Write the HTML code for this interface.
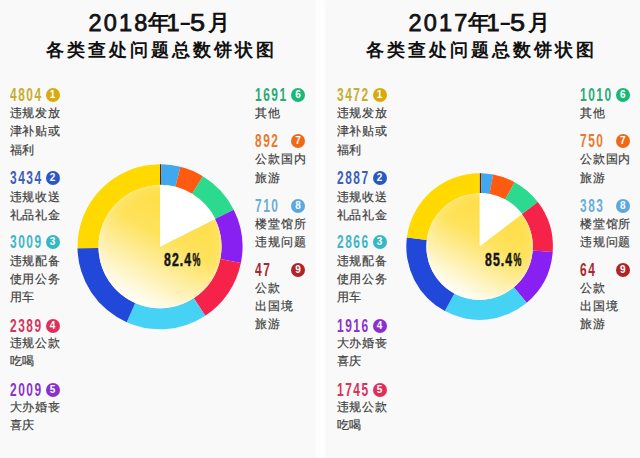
<!DOCTYPE html>
<html><head><meta charset="utf-8"><style>
html,body{margin:0;padding:0}
body{width:640px;height:458px;position:relative;overflow:hidden;background:#f9f9f9;font-family:"Liberation Sans",sans-serif}
.strip{position:absolute;left:316px;top:0;width:9px;box-shadow:0 0 2px #fefefe;height:458px;background:#fefefe}
.t1,.t2{position:absolute;width:320px;text-align:center;color:#111;font-weight:bold;white-space:nowrap}
.t1{top:9px;font-size:21px;line-height:26px}
.t1d,.t1c,.t1e,.t1f{position:absolute;top:9px;font-size:21.5px;line-height:26px;color:#111;font-weight:bold;white-space:nowrap}
.t1c{font-weight:900;top:10px}
.t1d{letter-spacing:2.2px;font-size:23.5px;top:9.5px;font-weight:normal;-webkit-text-stroke:0.75px #111}
.t1f{font-size:23.5px;top:9.5px;font-weight:normal;-webkit-text-stroke:0.75px #111;transform-origin:0 0;transform:scaleX(1.15)}
.t1e{font-size:22px;top:9.5px;transform-origin:0 0;transform:scaleX(0.85)}
.t2{top:36.5px;font-size:18px;line-height:26px;letter-spacing:3px;padding-left:3px;box-sizing:border-box;font-weight:900}
.num{position:absolute;font-size:18.5px;line-height:17px;height:17px;font-weight:bold;transform-origin:0 0;transform:scaleX(0.645);letter-spacing:2.4px;white-space:nowrap}
.bd{position:absolute;width:14px;height:14px;border-radius:50%;color:#fff;font-size:10px;line-height:14px;text-align:center;font-weight:bold}
.tx{position:absolute;font-size:12px;line-height:12px;color:#404040;letter-spacing:0.9px;white-space:nowrap;-webkit-text-stroke:0.2px #404040}
.pct{position:absolute;font-size:18.6px;line-height:18px;font-weight:bold;color:#151515;transform-origin:0 0;transform:scaleX(0.66);letter-spacing:1.6px;white-space:nowrap;-webkit-text-stroke:0.5px #151515}
.pc{display:inline-block;transform-origin:0 0;transform:scaleX(0.72)}
</style></head><body>
<div class="strip"></div>
<div class="t1d" style="left:88.5px">2018</div><div class="t1c" style="left:147.5px">年</div><div class="t1d" style="left:166.5px">1</div><div class="t1e" style="left:179.5px">–</div><div class="t1f" style="left:190px">5</div><div class="t1c" style="left:208px">月</div>
<div class="t2" style="left:0">各类查处问题总数饼状图</div>
<div class="t1d" style="left:408.5px">2017</div><div class="t1c" style="left:467.5px">年</div><div class="t1d" style="left:486.5px">1</div><div class="t1e" style="left:499.5px">–</div><div class="t1f" style="left:510px">5</div><div class="t1c" style="left:528px">月</div>
<div class="t2" style="left:320px">各类查处问题总数饼状图</div>
<svg width="640" height="458" style="position:absolute;left:0;top:0">
<defs><linearGradient id="g1" x1="0.78" y1="0.08" x2="0.3" y2="0.95">
<stop offset="0" stop-color="#fedc3c"/><stop offset="0.42" stop-color="#fee25c"/><stop offset="0.7" stop-color="#feefa8"/><stop offset="1" stop-color="#fffef8"/></linearGradient>
<radialGradient id="g1e" cx="0.5" cy="0.5" r="0.5"><stop offset="0.8" stop-color="#fff" stop-opacity="0"/><stop offset="1" stop-color="#fff" stop-opacity="0.12"/></radialGradient><linearGradient id="g2" x1="0.78" y1="0.08" x2="0.3" y2="0.95">
<stop offset="0" stop-color="#fedc3c"/><stop offset="0.42" stop-color="#fee25c"/><stop offset="0.7" stop-color="#feefa8"/><stop offset="1" stop-color="#fffef8"/></linearGradient>
<radialGradient id="g2e" cx="0.5" cy="0.5" r="0.5"><stop offset="0.8" stop-color="#fff" stop-opacity="0"/><stop offset="1" stop-color="#fff" stop-opacity="0.12"/></radialGradient></defs>
<path d="M160.00 164.20A82.5 82.5 0 0 1 161.28 164.21L160.96 185.21A61.5 61.5 0 0 0 160.00 185.20Z" fill="#6e1c10"/><path d="M161.28 164.21A82.5 82.5 0 0 1 180.45 166.78L175.25 187.12A61.5 61.5 0 0 0 160.96 185.21Z" fill="#3fa8ee"/><path d="M180.45 166.78A82.5 82.5 0 0 1 202.82 176.18L191.92 194.13A61.5 61.5 0 0 0 175.25 187.12Z" fill="#ff5a12"/><path d="M202.82 176.18A82.5 82.5 0 0 1 233.73 209.68L214.96 219.10A61.5 61.5 0 0 0 191.92 194.13Z" fill="#2bd98f"/><path d="M233.73 209.68A82.5 82.5 0 0 1 240.86 263.05L220.28 258.89A61.5 61.5 0 0 0 214.96 219.10Z" fill="#8720f0"/><path d="M240.86 263.05A82.5 82.5 0 0 1 205.26 315.68L193.74 298.12A61.5 61.5 0 0 0 220.28 258.89Z" fill="#f5224a"/><path d="M205.26 315.68A82.5 82.5 0 0 1 126.72 322.19L135.19 302.98A61.5 61.5 0 0 0 193.74 298.12Z" fill="#45d2f4"/><path d="M126.72 322.19A82.5 82.5 0 0 1 77.52 248.28L98.51 247.88A61.5 61.5 0 0 0 135.19 302.98Z" fill="#2148d8"/><path d="M77.52 248.28A82.5 82.5 0 0 1 160.00 164.20L160.00 185.20A61.5 61.5 0 0 0 98.51 247.88Z" fill="#ffd900"/>
<circle cx="160" cy="246.7" r="61.5" fill="url(#g1)"/><circle cx="160" cy="246.7" r="61.5" fill="url(#g1e)"/><circle cx="160" cy="246.7" r="60.5" fill="none" stroke="#fff" stroke-opacity="0.12" stroke-width="2"/><path d="M160 246.7L160.00 184.70A62.0 62.0 0 0 1 215.42 218.90Z" fill="#fff"/>
<path d="M479.60 173.30A73.3 73.3 0 0 1 481.55 173.33L481.02 193.42A53.2 53.2 0 0 0 479.60 193.40Z" fill="#6e1c10"/><path d="M481.55 173.33A73.3 73.3 0 0 1 493.16 174.57L489.44 194.32A53.2 53.2 0 0 0 481.02 193.42Z" fill="#3fa8ee"/><path d="M493.16 174.57A73.3 73.3 0 0 1 514.63 182.21L505.03 199.87A53.2 53.2 0 0 0 489.44 194.32Z" fill="#ff5a12"/><path d="M514.63 182.21A73.3 73.3 0 0 1 537.86 202.12L521.89 214.32A53.2 53.2 0 0 0 505.03 199.87Z" fill="#2bd98f"/><path d="M537.86 202.12A73.3 73.3 0 0 1 552.70 252.05L532.65 250.56A53.2 53.2 0 0 0 521.89 214.32Z" fill="#f5224a"/><path d="M552.70 252.05A73.3 73.3 0 0 1 526.75 302.72L513.82 287.33A53.2 53.2 0 0 0 532.65 250.56Z" fill="#8720f0"/><path d="M526.75 302.72A73.3 73.3 0 0 1 444.82 311.12L454.36 293.43A53.2 53.2 0 0 0 513.82 287.33Z" fill="#45d2f4"/><path d="M444.82 311.12A73.3 73.3 0 0 1 406.88 237.43L426.82 239.95A53.2 53.2 0 0 0 454.36 293.43Z" fill="#2148d8"/><path d="M406.88 237.43A73.3 73.3 0 0 1 479.60 173.30L479.60 193.40A53.2 53.2 0 0 0 426.82 239.95Z" fill="#ffd900"/>
<circle cx="479.6" cy="246.6" r="53.2" fill="url(#g2)"/><circle cx="479.6" cy="246.6" r="53.2" fill="url(#g2e)"/><circle cx="479.6" cy="246.6" r="52.2" fill="none" stroke="#fff" stroke-opacity="0.12" stroke-width="2"/><path d="M479.6 246.6L479.60 192.90A53.7 53.7 0 0 1 522.24 213.95Z" fill="#fff"/>
</svg>
<div class="num" style="left:9.5px;top:85.7px;color:#c6ae2e">4804</div><div class="bd" style="left:45.5px;top:87.7px;background:#d8aa0c">1</div><div class="tx" style="left:9.5px;top:107.2px">违规发放</div><div class="tx" style="left:9.5px;top:125.4px">津补贴或</div><div class="tx" style="left:9.5px;top:143.5px">福利</div><div class="num" style="left:9.5px;top:169.4px;color:#3a5fb8">3434</div><div class="bd" style="left:45.5px;top:171.4px;background:#2a56c8">2</div><div class="tx" style="left:9.5px;top:190.9px">违规收送</div><div class="tx" style="left:9.5px;top:209.0px">礼品礼金</div><div class="num" style="left:9.5px;top:233.3px;color:#3fb6c4">3009</div><div class="bd" style="left:45.5px;top:235.3px;background:#34b8c8">3</div><div class="tx" style="left:9.5px;top:254.8px">违规配备</div><div class="tx" style="left:9.5px;top:272.8px">使用公务</div><div class="tx" style="left:9.5px;top:290.8px">用车</div><div class="num" style="left:9.5px;top:316.6px;color:#d8335a">2389</div><div class="bd" style="left:45.5px;top:318.6px;background:#e0305a">4</div><div class="tx" style="left:9.5px;top:336.8px">违规公款</div><div class="tx" style="left:9.5px;top:355.3px">吃喝</div><div class="num" style="left:9.5px;top:381.4px;color:#8a34c8">2009</div><div class="bd" style="left:45.5px;top:383.4px;background:#8a30d0">5</div><div class="tx" style="left:9.5px;top:400.8px">大办婚丧</div><div class="tx" style="left:9.5px;top:419.3px">喜庆</div><div class="num" style="left:255px;top:86.4px;color:#2aaa78">1691</div><div class="bd" style="left:291px;top:88.4px;background:#1ab878">6</div><div class="tx" style="left:255px;top:106.8px">其他</div><div class="num" style="left:255px;top:132.4px;color:#e87a2e">892</div><div class="bd" style="left:291px;top:134.4px;background:#ee6a18">7</div><div class="tx" style="left:255px;top:153.4px">公款国内</div><div class="tx" style="left:255px;top:171.8px">旅游</div><div class="num" style="left:255px;top:197.1px;color:#6aaed8">710</div><div class="bd" style="left:291px;top:199.1px;background:#5aa8e0">8</div><div class="tx" style="left:255px;top:217.9px">楼堂馆所</div><div class="tx" style="left:255px;top:236.2px">违规问题</div><div class="num" style="left:255px;top:261.2px;color:#a8282e">47</div><div class="bd" style="left:291px;top:263.2px;background:#b02428">9</div><div class="tx" style="left:255px;top:282.0px">公款</div><div class="tx" style="left:255px;top:300.3px">出国境</div><div class="tx" style="left:255px;top:318.3px">旅游</div><div class="num" style="left:336.5px;top:85.7px;color:#c6ae2e">3472</div><div class="bd" style="left:372.5px;top:87.7px;background:#d8aa0c">1</div><div class="tx" style="left:336.5px;top:107.2px">违规发放</div><div class="tx" style="left:336.5px;top:125.4px">津补贴或</div><div class="tx" style="left:336.5px;top:143.5px">福利</div><div class="num" style="left:336.5px;top:169.4px;color:#3a5fb8">2887</div><div class="bd" style="left:372.5px;top:171.4px;background:#2a56c8">2</div><div class="tx" style="left:336.5px;top:190.9px">违规收送</div><div class="tx" style="left:336.5px;top:209.0px">礼品礼金</div><div class="num" style="left:336.5px;top:233.3px;color:#3fb6c4">2866</div><div class="bd" style="left:372.5px;top:235.3px;background:#34b8c8">3</div><div class="tx" style="left:336.5px;top:254.8px">违规配备</div><div class="tx" style="left:336.5px;top:272.8px">使用公务</div><div class="tx" style="left:336.5px;top:290.8px">用车</div><div class="num" style="left:336.5px;top:316.6px;color:#8a34c8">1916</div><div class="bd" style="left:372.5px;top:318.6px;background:#8a30d0">4</div><div class="tx" style="left:336.5px;top:336.8px">大办婚丧</div><div class="tx" style="left:336.5px;top:355.3px">喜庆</div><div class="num" style="left:336.5px;top:381.4px;color:#d8335a">1745</div><div class="bd" style="left:372.5px;top:383.4px;background:#e0305a">5</div><div class="tx" style="left:336.5px;top:400.8px">违规公款</div><div class="tx" style="left:336.5px;top:419.3px">吃喝</div><div class="num" style="left:579.8px;top:86.4px;color:#2aaa78">1010</div><div class="bd" style="left:615.8px;top:88.4px;background:#1ab878">6</div><div class="tx" style="left:579.8px;top:106.8px">其他</div><div class="num" style="left:579.8px;top:132.4px;color:#e87a2e">750</div><div class="bd" style="left:615.8px;top:134.4px;background:#ee6a18">7</div><div class="tx" style="left:579.8px;top:153.4px">公款国内</div><div class="tx" style="left:579.8px;top:171.8px">旅游</div><div class="num" style="left:579.8px;top:197.1px;color:#6aaed8">383</div><div class="bd" style="left:615.8px;top:199.1px;background:#5aa8e0">8</div><div class="tx" style="left:579.8px;top:217.9px">楼堂馆所</div><div class="tx" style="left:579.8px;top:236.2px">违规问题</div><div class="num" style="left:579.8px;top:261.2px;color:#a8282e">64</div><div class="bd" style="left:615.8px;top:263.2px;background:#b02428">9</div><div class="tx" style="left:579.8px;top:282.0px">公款</div><div class="tx" style="left:579.8px;top:300.3px">出国境</div><div class="tx" style="left:579.8px;top:318.3px">旅游</div>
<div class="pct" style="left:164px;top:251px">82.4<span class="pc">%</span></div>
<div class="pct" style="left:485px;top:251px">85.4<span class="pc">%</span></div>
</body></html>
